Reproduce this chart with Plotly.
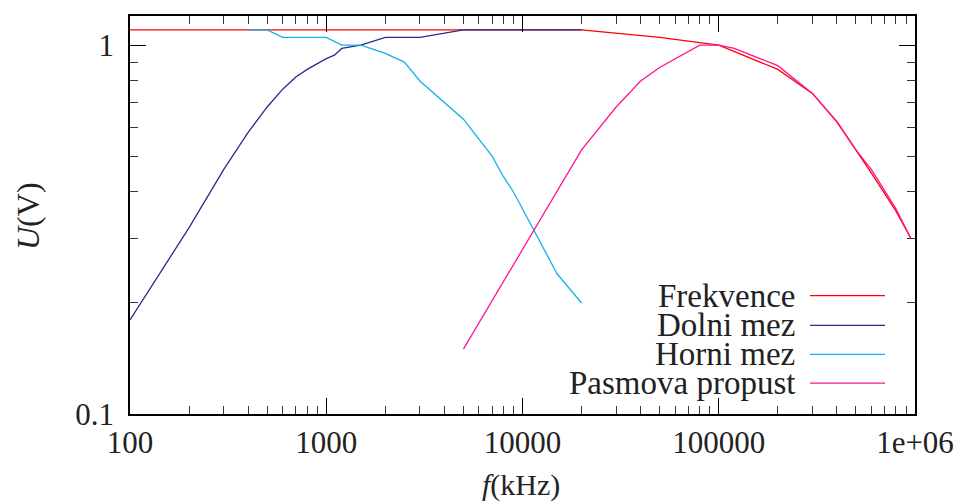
import math
import plotly.graph_objects as go

# ---- data ----
frek_f = [100, 200, 500, 1000, 2000, 5000, 10000, 20000, 50000, 100000, 200000,
          300000, 400000, 500000, 600000, 800000, 950000]
frek_u = [1.1, 1.1, 1.1, 1.1, 1.1, 1.1, 1.1, 1.1, 1.05, 1.0, 0.86,
          0.74, 0.62, 0.52, 0.45, 0.355, 0.3]

dolni_f = [100, 200, 300, 400, 500, 600, 700, 800, 1000, 1100, 1200, 1500,
           2000, 3000, 5000, 10000, 20000]
dolni_u = [0.18, 0.32, 0.46, 0.58, 0.68, 0.76, 0.82, 0.86, 0.92, 0.94, 0.98, 1.0,
           1.05, 1.05, 1.1, 1.1, 1.1]

horni_f = [400, 500, 600, 700, 800, 1000, 1200, 1500, 2000, 2500, 3000, 4000,
           5000, 7000, 8000, 9000, 10000, 15000, 20000]
horni_u = [1.1, 1.1, 1.05, 1.05, 1.05, 1.05, 1.0, 1.0, 0.95, 0.9, 0.8, 0.7,
           0.63, 0.5, 0.44, 0.4, 0.36, 0.24, 0.2]

pasm_f = [5000, 10000, 20000, 30000, 40000, 50000, 80000, 100000, 120000,
          200000, 300000, 400000, 500000, 600000, 800000, 950000]
pasm_u = [0.15, 0.28, 0.52, 0.68, 0.8, 0.87, 1.0, 1.0, 0.98,
          0.88, 0.74, 0.62, 0.52, 0.46, 0.36, 0.3]

series_names = ["Frekvence", "Dolni mez", "Horni mez", "Pasmova propust"]
series_colors = ["#ff0000", "#2a2a8e", "#12b0ec", "#ff1493"]

x_tickvals = [100, 1000, 10000, 100000, 1000000]
x_ticktext = ["100", "1000", "10000", "100000", "1e+06"]
y_tickvals = [0.1, 1]
y_ticktext = ["0.1", "1"]
x_title = "<i>f</i>(kHz)"
y_title = "<i>U</i>(V)"

FONT = "Liberation Serif"
TXT = "#222"

fig = go.Figure()
data = [(frek_f, frek_u), (dolni_f, dolni_u), (horni_f, horni_u), (pasm_f, pasm_u)]
for (xs, ys), name, col in zip(data, series_names, series_colors):
    fig.add_trace(go.Scatter(x=xs, y=ys, mode="lines", name=name,
                             line=dict(color=col, width=1.3), showlegend=False))

x_minor = [k * 10 ** e for e in range(2, 6) for k in range(2, 10)]
y_minor = [k * 0.1 for k in range(2, 10)]

fig.update_xaxes(type="log", range=[2, 6], tickmode="array",
                 tickvals=x_tickvals, ticktext=x_ticktext,
                 ticks="inside", ticklen=16, tickwidth=1.2, tickcolor="black",
                 showline=True, linecolor="black", linewidth=1.5, mirror="allticks",
                 showgrid=False, zeroline=False, ticklabelstandoff=0,
                 tickfont=dict(family=FONT, size=31, color=TXT),
                 minor=dict(tickmode="array", tickvals=x_minor, ticks="inside",
                            ticklen=8, tickwidth=1.2, tickcolor="#333", showgrid=False))
fig.update_yaxes(type="log", range=[-1, math.log10(1.2)], tickmode="array",
                 tickvals=y_tickvals, ticktext=y_ticktext,
                 ticks="inside", ticklen=16, tickwidth=1.2, tickcolor="black",
                 showline=True, linecolor="black", linewidth=1.5, mirror="allticks",
                 showgrid=False, zeroline=False, ticklabelstandoff=8,
                 tickfont=dict(family=FONT, size=31, color=TXT),
                 minor=dict(tickmode="array", tickvals=y_minor, ticks="inside",
                            ticklen=8, tickwidth=1.2, tickcolor="#333", showgrid=False))

# the page shows the figure with an ~8 px body offset
OFF = 8
W, H = 965, 504
L, R, T, B = 130 - OFF, W - (915 - OFF), 14 - OFF, H - (414 - OFF)
pw, ph = W - L - R, H - T - B
plot_bottom = H - B


def paper_y(page_y):
    return (plot_bottom - (page_y - OFF)) / ph


def paper_x(page_x):
    return (page_x - OFF - L) / pw


# axis titles
fig.add_annotation(xref="paper", yref="paper", x=paper_x(521), y=paper_y(485),
                   text=x_title, showarrow=False, xanchor="center", yanchor="middle",
                   font=dict(family=FONT, size=30, color=TXT))
fig.add_annotation(xref="paper", yref="paper", x=paper_x(28), y=paper_y(215),
                   text=y_title, showarrow=False, xanchor="center", yanchor="middle",
                   textangle=-90, font=dict(family=FONT, size=32, color=TXT))

# gnuplot-style legend: text right-aligned, sample line to its right
rows_px = [295, 325, 354, 383]
for name, col, ypx in zip(series_names, series_colors, rows_px):
    yp = paper_y(ypx)
    fig.add_annotation(xref="paper", yref="paper", x=paper_x(797), y=yp,
                       text=name, showarrow=False, xanchor="right", yanchor="middle",
                       font=dict(family=FONT, size=33, color=TXT))
    fig.add_shape(type="line", xref="paper", yref="paper",
                  x0=paper_x(810), x1=paper_x(885), y0=yp, y1=yp,
                  line=dict(color=col, width=1.3))

fig.update_layout(width=W, height=H, margin=dict(l=L, r=R, t=T, b=B),
                  paper_bgcolor="white", plot_bgcolor="white")

fig.write_html("out.html")
